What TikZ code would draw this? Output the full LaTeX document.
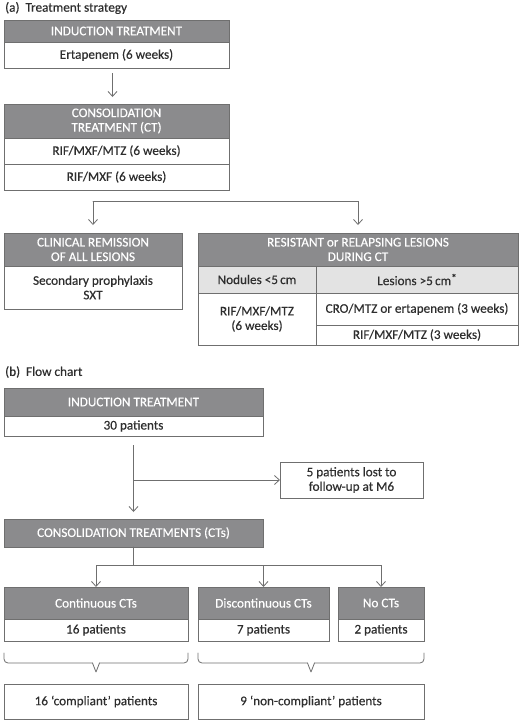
\documentclass[tikz,border=0pt]{standalone}
\usepackage{fontspec}
\setmainfont{Carlito}[FakeBold=0.35]
\usetikzlibrary{arrows.meta,calc}
\definecolor{hdr}{HTML}{8B8B8D}
\definecolor{bd}{HTML}{6F6F6F}
\definecolor{subg}{HTML}{E3E3E3}
\definecolor{txt}{HTML}{2E2E2E}
\newcommand\fs{\fontsize{13.2}{14.5}\selectfont}
\tikzset{
 box/.style={draw=bd, line width=0.8pt, anchor=north west, inner sep=0pt, outer sep=0pt, align=center, text=txt, font=\fs},
 hdrbox/.style={box, fill=hdr, text=white},
 subbox/.style={box, fill=subg},
 arr/.style={draw=bd, line width=0.8pt, -{Straight Barb[length=5pt,width=9pt]}},
 ln/.style={draw=bd, line width=0.8pt, line join=round, line cap=round},
 lbl/.style={anchor=west, inner sep=0pt, text=txt, font=\fs},
}
\newcommand\mkbox[7]{\node[#1,minimum width={(#5-#3)*1pt},minimum height={(#6-#4)*1pt}] (#2) at (#3,#4) {#7};}
\newcommand\brc[3]{%
 \draw[ln, rounded corners=4pt] (#1,653) |- ({#3-3.5},663);
 \draw[ln] ({#3-3.5},663) -- (#3,672) -- ({#3+3.5},663);
 \draw[ln, rounded corners=4pt] ({#3+3.5},663) -| (#2,653);}
\begin{document}
\begin{tikzpicture}[x=1pt,y=-1pt]
\fill[white] (0,0) rectangle (520,720);
\useasboundingbox (0,0) rectangle (520,720);
% (a)
\node[lbl] (la) at (5,8) {(a)\ \ Treatment strategy};
\mkbox{hdrbox}{ih}{4}{20}{229}{42}{INDUCTION TREATMENT}
\mkbox{box}{ib}{4}{42}{229}{68}{Ertapenem (6 weeks)}
\mkbox{hdrbox}{ch}{4}{104}{229}{138}{CONSOLIDATION\\TREATMENT (CT)}
\mkbox{box}{c1}{4}{138}{229}{164}{RIF/MXF/MTZ (6 weeks)}
\mkbox{box}{c2}{4}{164}{229}{190}{RIF/MXF (6 weeks)}
\draw[arr, shorten <=5pt, shorten >=7pt] ([xshift=-4pt]ib.south) -- ([xshift=-4pt]ch.north);
\mkbox{hdrbox}{rh}{4}{233}{182}{266}{CLINICAL REMISSION\\OF ALL LESIONS}
\mkbox{box}{rb}{4}{266}{182}{309}{Secondary prophylaxis\\SXT}
\mkbox{hdrbox}{lh}{198}{233}{518}{266}{RESISTANT or RELAPSING LESIONS\\DURING CT}
\mkbox{subbox}{n1}{198}{266}{316}{293}{Nodules <5\,cm}
\mkbox{subbox}{n2}{316}{266}{518}{293}{Lesions >5\,cm\raisebox{3.5pt}{\fontsize{11}{11}\selectfont*}}
\mkbox{box}{n1b}{198}{293}{316}{345}{RIF/MXF/MTZ\\(6 weeks)}
\mkbox{box}{n2a}{316}{293}{518}{325}{CRO/MTZ or ertapenem (3 weeks)}
\mkbox{box}{n2b}{316}{325}{518}{345}{RIF/MXF/MTZ (3 weeks)}
\coordinate (h1) at ([yshift=32pt]rh.north);
\coordinate (h2) at ([yshift=32pt]lh.north);
\draw[ln] (h1) -- (h2);
\draw[arr, shorten >=8pt] (h1) -- (rh.north);
\draw[arr, shorten >=8pt] (h2) -- (lh.north);
% (b)
\node[lbl] (lb) at (5,372) {(b)\ \ Flow chart};
\mkbox{hdrbox}{bih}{4}{388}{263}{416}{INDUCTION TREATMENT}
\mkbox{box}{bib}{4}{416}{263}{436}{30 patients}
\mkbox{box}{lost}{280}{462}{423}{498}{5 patients lost to\\follow-up at M6}
\mkbox{hdrbox}{bch}{4}{519}{263}{547}{CONSOLIDATION TREATMENTS (CTs)}
\draw[arr, shorten <=9pt, shorten >=7pt] (bib.south) -- (bch.north);
\draw[arr] (bib.south |- lost.west) -- (lost.west);
\mkbox{hdrbox}{conth}{4}{587}{188}{619}{Continuous CTs}
\mkbox{box}{contb}{4}{619}{188}{641}{16 patients}
\mkbox{hdrbox}{disch}{198}{587}{329}{619}{Discontinuous CTs}
\mkbox{box}{discb}{198}{619}{329}{641}{7 patients}
\mkbox{hdrbox}{noh}{338}{587}{424}{619}{No CTs}
\mkbox{box}{nob}{338}{619}{424}{641}{2 patients}
\coordinate (j) at ([yshift=-18pt]bch.south);
\draw[ln] (bch.south) -- (j);
\draw[arr] (j) -| (conth.north);
\draw[arr] (j) -| (noh.north);
\draw[arr] (j -| disch.north) -- (disch.north);
\brc{4}{188}{96}
\brc{198}{424}{311}
\mkbox{box}{comp}{4}{684}{188}{719}{16 ‘compliant’ patients}
\mkbox{box}{ncomp}{198}{684}{424}{719}{9 ‘non-compliant’ patients}
\end{tikzpicture}
\end{document}
